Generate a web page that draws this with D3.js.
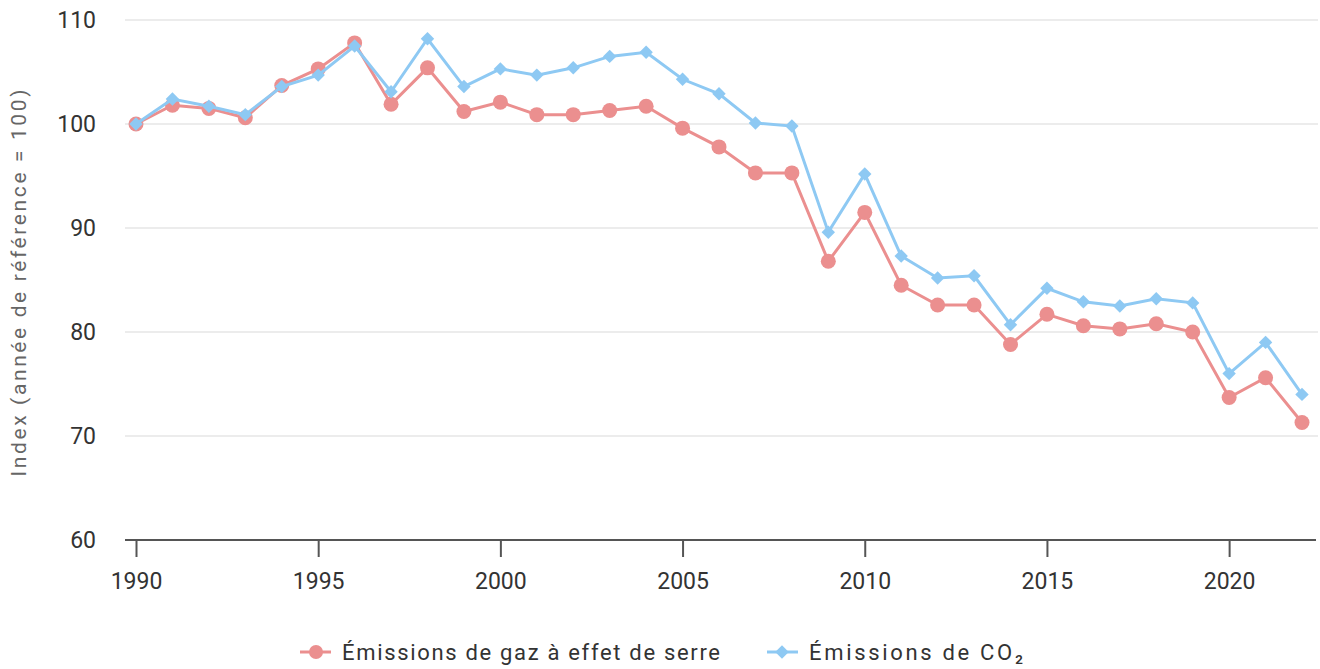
<!DOCTYPE html>
<html>
<head>
<meta charset="utf-8">
<script src="https://cdn.jsdelivr.net/npm/d3@7"></script>
<style>
  body { margin: 0; background: #fff; }
  svg { display: block; font-family: Roboto, "Liberation Sans", sans-serif; }
  .tick text { fill: #333; }
</style>
</head>
<body>
<script>
var width = 1320,
    height = 669;

// data
var years = d3.range(1990, 2023);
var ghg = [100, 101.8, 101.5, 100.6, 103.7, 105.3, 107.8, 101.9, 105.4, 101.2,
           102.1, 100.9, 100.9, 101.3, 101.7, 99.6, 97.8, 95.3, 95.3, 86.8,
           91.5, 84.5, 82.6, 82.6, 78.8, 81.7, 80.6, 80.3, 80.8, 80.0,
           73.7, 75.6, 71.3];
var co2 = [100, 102.4, 101.7, 100.9, 103.6, 104.7, 107.5, 103.1, 108.2, 103.6,
           105.3, 104.7, 105.4, 106.5, 106.9, 104.3, 102.9, 100.1, 99.8, 89.6,
           95.2, 87.3, 85.2, 85.4, 80.7, 84.2, 82.9, 82.5, 83.2, 82.8,
           76.0, 79.0, 74.0];
var yTicks = [60, 70, 80, 90, 100, 110];
var xTicks = [1990, 1995, 2000, 2005, 2010, 2015, 2020];
var seriesNames = ["Émissions de gaz à effet de serre", "Émissions de CO₂"];
var seriesColors = ["#eb8f8f", "#8ec9f3"];

var x = d3.scaleLinear().domain([1990, 2022]).range([136, 1302]);
var y = d3.scaleLinear().domain([60, 110]).range([540, 20]);

var svg = d3.select("body").append("svg")
    .attr("width", width)
    .attr("height", height);

// grid lines
svg.append("g")
    .selectAll("line")
    .data(yTicks.filter(function(d) { return d > 60; }))
    .enter().append("line")
    .attr("x1", 125).attr("x2", 1318)
    .attr("y1", function(d) { return y(d); })
    .attr("y2", function(d) { return y(d); })
    .attr("stroke", "#e6e6e6")
    .attr("stroke-width", 1.5);

// y axis labels
var yAxis = d3.axisLeft(y).tickValues(yTicks).tickSize(0).tickPadding(0);
svg.append("g")
    .attr("transform", "translate(96,0)")
    .call(yAxis)
    .call(function(g) { g.select(".domain").remove(); })
    .selectAll("text")
    .attr("font-size", 23)
    .attr("font-family", "Roboto, sans-serif");

// x axis
var xAxis = d3.axisBottom(x).tickValues(xTicks).tickFormat(d3.format("d"))
    .tickSize(17).tickSizeOuter(0).tickPadding(16);
var gx = svg.append("g")
    .attr("transform", "translate(0,540)")
    .call(xAxis);
gx.select(".domain").attr("d", "M125,0H1316").attr("stroke", "#555").attr("stroke-width", 2);
gx.selectAll(".tick line").attr("stroke", "#555").attr("stroke-width", 2);
gx.selectAll("text").attr("font-size", 23).attr("font-family", "Roboto, sans-serif");

// y title
svg.append("text")
    .attr("transform", "translate(26,283) rotate(-90)")
    .attr("text-anchor", "middle")
    .attr("font-size", 21)
    .attr("fill", "#666")
    .attr("textLength", 387)
    .attr("lengthAdjust", "spacing")
    .text("Index (année de référence = 100)");

var line = d3.line()
    .x(function(d, i) { return x(years[i]); })
    .y(function(d) { return y(d); });

var diamond = d3.symbol().type(d3.symbolDiamond2).size(115);

function drawSeries(values, color, kind) {
  var g = svg.append("g");
  g.append("path")
      .datum(values)
      .attr("fill", "none")
      .attr("stroke", color)
      .attr("stroke-width", 3)
      .attr("d", line);
  if (kind === "circle") {
    g.selectAll("circle")
        .data(values)
        .enter().append("circle")
        .attr("cx", function(d, i) { return x(years[i]); })
        .attr("cy", function(d) { return y(d); })
        .attr("r", 7.5)
        .attr("fill", color);
  } else {
    g.selectAll("path.pt")
        .data(values)
        .enter().append("path")
        .attr("class", "pt")
        .attr("d", diamond)
        .attr("transform", function(d, i) { return "translate(" + x(years[i]) + "," + y(d) + ")"; })
        .attr("fill", color);
  }
}

drawSeries(ghg, seriesColors[0], "circle");
drawSeries(co2, seriesColors[1], "diamond");

// legend
var legendX = [300, 767];
var legendLen = [378, 214];
seriesNames.forEach(function(name, i) {
  var lg = svg.append("g").attr("transform", "translate(" + legendX[i] + ",652)");
  lg.append("line")
      .attr("x1", 0).attr("x2", 31)
      .attr("stroke", seriesColors[i]).attr("stroke-width", 3);
  if (i === 0) {
    lg.append("circle").attr("cx", 16).attr("r", 7).attr("fill", seriesColors[i]);
  } else {
    lg.append("path").attr("d", diamond).attr("transform", "translate(15,0)").attr("fill", seriesColors[i]);
  }
  lg.append("text")
      .attr("x", 42)
      .attr("dy", "0.35em")
      .attr("font-size", 22)
      .attr("fill", "#333")
      .attr("textLength", legendLen[i])
      .attr("lengthAdjust", "spacing")
      .text(name);
});
</script>
</body>
</html>
